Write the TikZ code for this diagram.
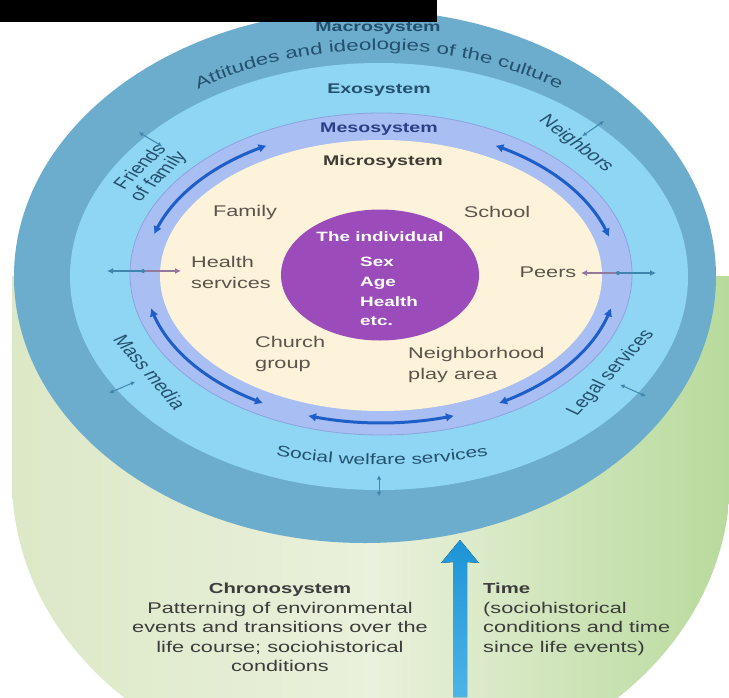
\documentclass[tikz,border=0pt]{standalone}
\usepackage{fontspec}
\setmainfont{Liberation Sans}[FakeStretch=1.4]
\newfontfamily\plainf{Liberation Sans}
\usetikzlibrary{decorations.text,arrows.meta,shapes.geometric}
\definecolor{macro}{HTML}{6CADCE}
\definecolor{exo}{HTML}{8ED6F4}
\definecolor{meso}{HTML}{A9BEF2}
\definecolor{mesoline}{HTML}{8EA2DE}
\definecolor{micro}{HTML}{FDF2DA}
\definecolor{indiv}{HTML}{9B4BBA}
\definecolor{arr}{HTML}{1E5EC8}
\definecolor{lbl}{HTML}{24506E}
\definecolor{mesolbl}{HTML}{2B3F86}
\definecolor{txt}{HTML}{5A544C}
\definecolor{grnL}{HTML}{DCE8C6}
\definecolor{grnM}{HTML}{EAF1DC}
\definecolor{grnR}{HTML}{B8DA9C}
\definecolor{timeblue}{HTML}{1C94D6}
\definecolor{timelight}{HTML}{4DB4E6}
\definecolor{teal2}{HTML}{3F86AE}
\definecolor{mauve}{HTML}{94789C}
\definecolor{chrono}{HTML}{3C3C3C}
\begin{document}
\begin{tikzpicture}[x=1pt,y=-1pt]
\tikzset{
  ringlbl/.style={font=\plainf\fontsize{15.5}{16}\selectfont, text=lbl, inner sep=0, align=center},
  microlbl/.style={font=\fontsize{15.5}{21}\selectfont, text=txt, inner sep=0, align=left},
  syslbl/.style={font=\bfseries\fontsize{14}{16}\selectfont, inner sep=0, anchor=base},
  indlbl/.style={font=\bfseries\fontsize{13.5}{19.7}\selectfont, text=white, inner sep=0, align=left},
  mesoarrow/.style={draw=arr, line width=3pt, {Latex[length=8pt,width=9pt]}-{Latex[length=8pt,width=9pt]}},
  tinyarrow/.style={draw=teal2, line width=1pt, {Latex[length=4.5pt,width=4.5pt]}-{Latex[length=4.5pt,width=4.5pt]}},
  sidearrow/.style={line width=1.4pt, -{Latex[length=6pt,width=6pt]}},
  lowtext/.style={font=\fontsize{15.5}{19.5}\selectfont, text=chrono, inner sep=0},
}
\useasboundingbox (0,0) rectangle (729,697);
\fill[white] (0,0) rectangle (729,697);
% cylinder body
\path[left color=grnL, right color=grnR, middle color=grnM]
  (12,276) -- plot[domain=180:360,samples=90,variable=\t] ({371+359*cos(\t)},{480-300*sin(\t)}) -- (730,276) -- cycle;
% top rings
\fill[macro] (365,276.5) ellipse [x radius=351pt, y radius=266.5pt];
\fill[exo] (379,276.5) ellipse [x radius=309pt, y radius=213.5pt];
\filldraw[fill=meso, draw=mesoline, line width=0.8pt] (381,274) ellipse [x radius=251pt, y radius=161pt];
\fill[micro] (381,275.5) ellipse [x radius=221pt, y radius=135.5pt];
\node[ellipse, fill=indiv, inner sep=0, minimum width=198pt, minimum height=131pt] (indE) at (380,275) {};
% mesosystem arrows
\draw[mesoarrow] plot[domain=164:119,samples=30,smooth,variable=\t] ({381+236*cos(\t)},{275-148*sin(\t)});
\draw[mesoarrow] plot[domain=61:15,samples=30,smooth,variable=\t] ({381+236*cos(\t)},{275-148*sin(\t)});
\draw[mesoarrow] plot[domain=193:240,samples=30,smooth,variable=\t] ({381+236*cos(\t)},{275-148*sin(\t)});
\draw[mesoarrow] plot[domain=252:288,samples=30,smooth,variable=\t] ({381+236*cos(\t)},{275-148*sin(\t)});
\draw[mesoarrow] plot[domain=300:347,samples=30,smooth,variable=\t] ({381+236*cos(\t)},{275-148*sin(\t)});
% small arrows across exo/macro boundary
\foreach \a/\nm in {139/fr,45/nb,212/mm,327/ls,270/sw}{
  \coordinate (\nm i) at ({379+0.93*309*cos(\a)},{276.5-0.93*213.5*sin(\a)});
  \coordinate (\nm o) at ({379+1.03*309*cos(\a)},{276.5-1.03*213.5*sin(\a)});
  \draw[tinyarrow] (\nm i) -- (\nm o);
}
% side arrows (health services, peers)
\coordinate (hsL) at (107,271); \coordinate (hsM) at (143,271); \coordinate (hsR) at (181,271);
\draw[sidearrow, draw=teal2, fill=teal2] (hsM) -- (hsL);
\draw[sidearrow, draw=mauve, fill=mauve] (hsM) -- (hsR);
\fill[teal2] (hsM) circle (2pt);
\coordinate (prL) at (581,273); \coordinate (prM) at (618,273); \coordinate (prR) at (656,273);
\draw[sidearrow, draw=mauve, fill=mauve] (prM) -- (prL);
\draw[sidearrow, draw=teal2, fill=teal2] (prM) -- (prR);
\fill[teal2] (prM) circle (2pt);
% time arrow
\coordinate (tbot) at (460,697); \coordinate (ttop) at (460,540);
\fill[top color=timeblue, bottom color=timelight]
  (453,697) -- (453,562) -- (441,563) -- (ttop) -- (479,563) -- (467,562) -- (467,697) -- cycle;
% curved texts
\path[decorate, decoration={text along path, text align=center, text color=lbl,
  text={|\fontsize{16}{18}\selectfont|Attitudes and ideologies of the culture}}]
  plot[domain=150:30,samples=41,variable=\t] ({379+323*cos(\t)},{280-230*sin(\t)});
\path[decorate, decoration={text along path, text align=center, text color=lbl,
  text={|\fontsize{15}{17}\selectfont|Social welfare services}}]
  plot[domain=225:315,samples=46,variable=\t] ({382+330*cos(\t)},{280-185*sin(\t)});
% system labels
\node[syslbl, text=lbl] (macroL) at (378,31) {Macrosystem};
\node[syslbl, text=lbl] (exoL) at (379,93) {Exosystem};
\node[syslbl, text=mesolbl] (mesoL) at (379,132) {Mesosystem};
\node[syslbl, text=txt!70!black] (microL) at (383,165) {Microsystem};
% exosystem labels (drawn upright, then stretched like the whole figure)
\node[ringlbl, xscale=1.4, rotate=54] (friends) at (150,172) {Friends\\of family};
\node[ringlbl, xscale=1.4, rotate=-47] (neigh) at (576,144) {Neighbors};
\node[ringlbl, xscale=1.4, rotate=-58] (media) at (150,372) {Mass media};
\node[ringlbl, xscale=1.4, rotate=56] (legal) at (611,373) {Legal services};
% microsystem labels
\node[microlbl] (family) at (245,212) {Family};
\node[microlbl] (school) at (497,212) {School};
\node[microlbl, anchor=west] (health) at (191,272) {Health\\services};
\node[microlbl] (peers) at (548,272) {Peers};
\node[microlbl, anchor=west] (church) at (255,354) {Church\\group};
\node[microlbl, anchor=west] (nbh) at (408,365) {Neighborhood\\play area};
% individual
\node[indlbl] (indiv) at (380,237) {The individual};
\node[indlbl, anchor=north west] (traits) at (360,257) {Sex\\Age\\Health\\etc.};
% chronosystem text
\node[lowtext, align=center, anchor=north] (chrono) at (280,583)
  {{\bfseries\fontsize{14.5}{19.5}\selectfont Chronosystem}\\Patterning of environmental\\events and transitions over the\\life course; sociohistorical\\conditions};
\node[lowtext, align=left, anchor=north west] (time) at (483,583)
  {{\bfseries\fontsize{14.5}{19.5}\selectfont Time}\\(sociohistorical\\conditions and time\\since life events)};
% black bar
\fill[black] (0,0) rectangle (437,22);
\end{tikzpicture}
\end{document}
